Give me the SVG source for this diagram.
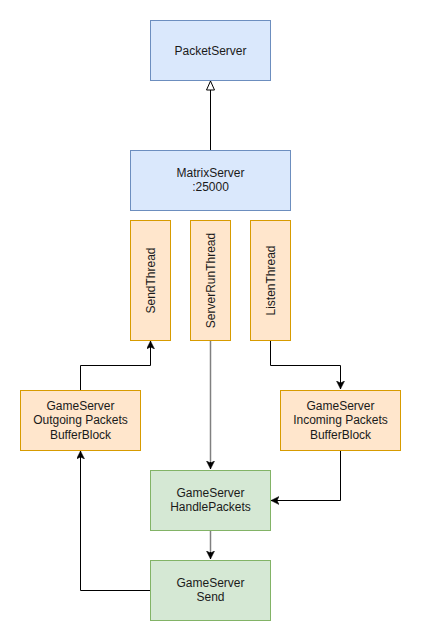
<svg xmlns="http://www.w3.org/2000/svg" width="421" height="641" viewBox="0 0 421 641">
<style>
.blue{fill:#dae8fc;stroke:#6c8ebf;stroke-width:1}
.orange{fill:#ffe6cc;stroke:#d79b00;stroke-width:1}
.green{fill:#d5e8d4;stroke:#82b366;stroke-width:1}
text{font-family:"Liberation Sans",Arial,sans-serif;font-size:12px;fill:#1a1a1a;text-anchor:middle}
.edge{fill:none;stroke:#000;stroke-width:1}
.gray{fill:none;stroke:#808080;stroke-width:1.5}
</style>
<defs>
<marker id="arr" markerUnits="userSpaceOnUse" markerWidth="10" markerHeight="10" refX="8" refY="4" orient="auto" viewBox="0 0 10 10">
<path d="M0,0 L8,4 L0,8 L2,4 Z" fill="#000" stroke="#000" stroke-width="0.5"/>
</marker>
<marker id="tri" markerUnits="userSpaceOnUse" markerWidth="12" markerHeight="12" refX="9" refY="4" orient="auto" viewBox="-1 -1 12 12">
<path d="M0,0 L9,4 L0,8 Z" fill="#fff" stroke="#000" stroke-width="1"/>
</marker>
</defs>
<rect width="421" height="641" fill="#fff"/>
<g id="connectors">
<path class="edge" d="M210.5,150 L210.5,81" marker-end="url(#tri)"/>
<path class="edge" d="M80.5,390 L80.5,365.5 L150.5,365.5 L150.5,341" marker-end="url(#arr)"/>
<path class="edge" d="M270.5,340 L270.5,365.5 L340.5,365.5 L340.5,389" marker-end="url(#arr)"/>
<path class="gray" d="M210.5,340 L210.5,464"/>
<path class="edge" d="M210.5,462 L210.5,469" marker-end="url(#arr)"/>
<path class="edge" d="M340.5,450 L340.5,500.5 L271,500.5" marker-end="url(#arr)"/>
<path class="gray" d="M210.5,530 L210.5,554"/>
<path class="edge" d="M210.5,552 L210.5,559" marker-end="url(#arr)"/>
<path class="edge" d="M150,590.5 L80.5,590.5 L80.5,451" marker-end="url(#arr)"/>
</g>
<g id="packetserver">
<rect class="blue" x="150.5" y="20.5" width="120" height="60"/>
<text x="210.5" y="54.5">PacketServer</text>
</g>
<g id="matrixserver">
<rect class="blue" x="130.5" y="150.5" width="160" height="60"/>
<text x="210.5" y="177">MatrixServer</text>
<text x="210.5" y="191">:25000</text>
</g>
<g id="sendthread">
<rect class="orange" x="130.5" y="220.5" width="40" height="120"/>
<text transform="translate(154.5,280.5) rotate(-90)">SendThread</text>
</g>
<g id="serverrunthread">
<rect class="orange" x="190.5" y="220.5" width="40" height="120"/>
<text transform="translate(214.5,280.5) rotate(-90)">ServerRunThread</text>
</g>
<g id="listenthread">
<rect class="orange" x="250.5" y="220.5" width="40" height="120"/>
<text transform="translate(274.5,280.5) rotate(-90)">ListenThread</text>
</g>
<g id="outgoing">
<rect class="orange" x="20.5" y="390.5" width="120" height="60"/>
<text x="80.5" y="410">GameServer</text>
<text x="80.5" y="424">Outgoing Packets</text>
<text x="80.5" y="438.5">BufferBlock</text>
</g>
<g id="incoming">
<rect class="orange" x="280.5" y="390.5" width="120" height="60"/>
<text x="340.5" y="410">GameServer</text>
<text x="340.5" y="424">Incoming Packets</text>
<text x="340.5" y="438.5">BufferBlock</text>
</g>
<g id="handlepackets">
<rect class="green" x="150.5" y="470.5" width="120" height="60"/>
<text x="210.5" y="497">GameServer</text>
<text x="210.5" y="511">HandlePackets</text>
</g>
<g id="send">
<rect class="green" x="150.5" y="560.5" width="120" height="60"/>
<text x="210.5" y="587">GameServer</text>
<text x="210.5" y="601">Send</text>
</g>
</svg>
